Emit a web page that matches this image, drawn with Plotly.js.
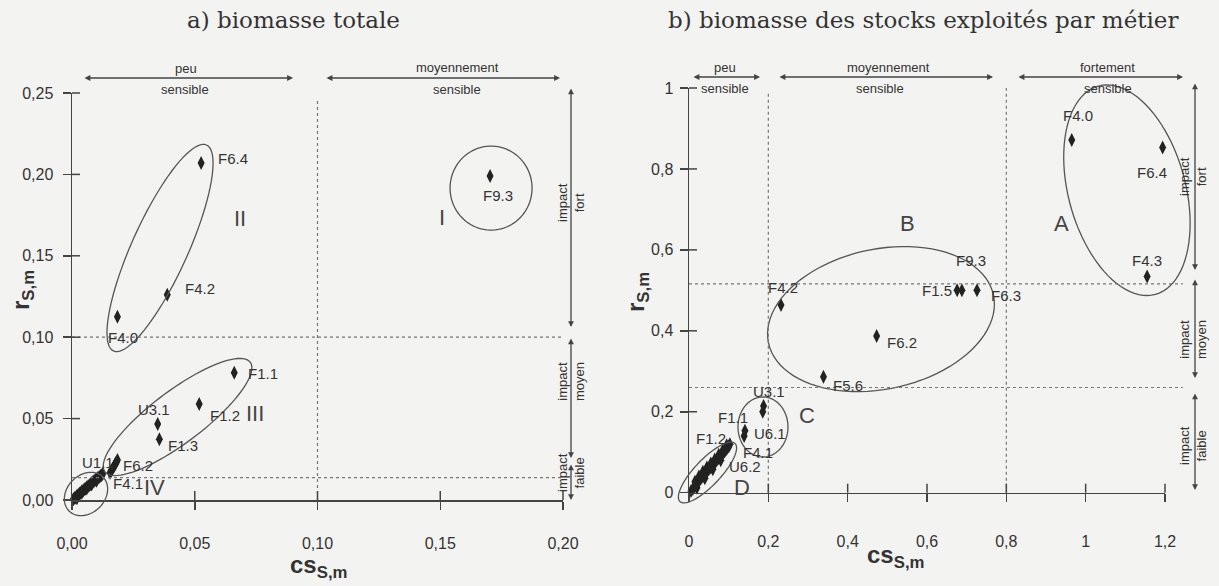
<!DOCTYPE html>
<html><head><meta charset="utf-8">
<script src="https://cdn.plot.ly/plotly-3.0.1.min.js"></script>
<style>html,body{margin:0;padding:0;background:#f3f3f1}</style>
</head><body><div id="chart" style="width:1219px;height:586px"></div>
<script>
// ---------- Panel a: biomasse totale ----------
const aNames = ['F6.4','F4.2','F4.0','F9.3','F1.1','F1.2','U3.1','F1.3'];
const aX = [0.0526,0.0388,0.0185,0.1703,0.0661,0.0518,0.0349,0.0356];
const aY = [0.2070,0.1260,0.1126,0.1990,0.0782,0.0590,0.0467,0.0373];
// dense cluster (IV, F4.1, U1.1, F6.2)
const aClusterX = [0.0005,0.0010,0.0015,0.0020,0.0025,0.0030,0.0035,0.0040,0.0045,0.0050,0.0055,0.0060,0.0065,0.0070,0.0075,0.0080,0.0085,0.0090,0.0095,0.0100,0.0105,0.0110,0.0115,0.0120,0.0125,0.0020,0.0040,0.0060,0.0080,0.0100,0.0155,0.0160,0.0165,0.0170,0.0175,0.0180,0.0185];
const aClusterY = [0.0004,0.0012,0.0016,0.0026,0.0030,0.0040,0.0043,0.0053,0.0057,0.0066,0.0069,0.0079,0.0083,0.0090,0.0097,0.0104,0.0110,0.0116,0.0124,0.0128,0.0135,0.0140,0.0147,0.0152,0.0160,0.0010,0.0045,0.0070,0.0095,0.0118,0.0168,0.0180,0.0192,0.0205,0.0218,0.0230,0.0245];
const aThreshX = [0.10];
const aThreshY = [0.10, 0.0137];
const aXTicks = [0,0.05,0.10,0.15,0.20];
const aXTickText = ['0,00','0,05','0,10','0,15','0,20'];
const aYTicks = [0,0.05,0.10,0.15,0.20,0.25];
const aYTickText = ['0,00','0,05','0,10','0,15','0,20','0,25'];

// ---------- Panel b: biomasse des stocks exploités par métier ----------
const bNames = ['F4.0','F6.4','F4.3','F1.5','F9.3','F6.3','F4.2','F6.2','F5.6','U3.1','U3.1b','F1.1','U6.1'];
const bX = [0.965,1.194,1.155,0.676,0.688,0.726,0.232,0.473,0.339,0.186,0.188,0.139,0.141];
const bY = [0.8715,0.853,0.534,0.500,0.500,0.500,0.4637,0.387,0.2866,0.200,0.214,0.140,0.153];
const bClusterX = [0.005,0.010,0.015,0.020,0.025,0.030,0.035,0.040,0.045,0.050,0.055,0.060,0.065,0.070,0.075,0.080,0.085,0.090,0.095,0.100,0.103,0.015,0.025,0.035,0.045,0.055,0.065,0.075,0.085,0.095,0.020,0.040,0.060,0.080];
const bClusterY = [0.004,0.010,0.016,0.024,0.028,0.035,0.040,0.047,0.051,0.058,0.062,0.069,0.073,0.080,0.085,0.091,0.096,0.102,0.108,0.114,0.120,0.027,0.040,0.052,0.062,0.072,0.082,0.094,0.104,0.117,0.012,0.036,0.058,0.080];
const bThreshX = [0.2, 0.8];
const bThreshY = [0.516, 0.26];
const bXTicks = [0,0.2,0.4,0.6,0.8,1,1.2];
const bXTickText = ['0','0,2','0,4','0,6','0,8','1','1,2'];
const bYTicks = [0,0.2,0.4,0.6,0.8,1];
const bYTickText = ['0','0,2','0,4','0,6','0,8','1'];

// ---------- geometry ----------
const W = 1219, H = 586;
const PA = {xd:[72/W,563/W], xr:[0,0.2], yd:[1-500/H,1-93/H], yr:[0,0.25]};
const PB = {xd:[689/W,1165/W], xr:[0,1.2], yd:[1-492.7/H,1-88/H], yr:[0,1]};
function pfx(P,x){return P.xd[0]+(x-P.xr[0])/(P.xr[1]-P.xr[0])*(P.xd[1]-P.xd[0]);}
function pfy(P,y){return P.yd[0]+(y-P.yr[0])/(P.yr[1]-P.yr[0])*(P.yd[1]-P.yd[0]);}

// group ellipses: centre in data units, semi-axes in px, angle in degrees
const aEllipses = [
  {cx:0.03585, cy:0.1548, a:113, b:28, ang:65.7},
  {cx:0.1707, cy:0.1916, a:41, b:42, ang:0},
  {cx:0.0430, cy:0.0510, a:91, b:26, ang:37},
  {cx:0.0057, cy:0.0037, a:24, b:19, ang:45}
];
const bEllipses = [
  {cx:1.104, cy:0.7475, a:108, b:58.5, ang:105.3},
  {cx:0.484, cy:0.429, a:115, b:70, ang:12},
  {cx:0.1865, cy:0.1624, a:25, b:30, ang:0},
  {cx:0.0466, cy:0.0499, a:40, b:13, ang:46.5}
];
function ellipseShape(P,e){
  const cx = pfx(P,e.cx)*W, cy = (1-pfy(P,e.cy))*H, th = e.ang*Math.PI/180;
  let d = '';
  for(let i=0;i<=90;i++){
    const t = 2*Math.PI*i/90, ex = e.a*Math.cos(t), ey = e.b*Math.sin(t);
    const X = cx + ex*Math.cos(th) - ey*Math.sin(th);
    const Y = cy - (ex*Math.sin(th) + ey*Math.cos(th));
    d += (i?'L':'M') + (X/W).toFixed(5) + ',' + (1-Y/H).toFixed(5);
  }
  return {type:'path', xref:'paper', yref:'paper', path:d+'Z', line:{color:'#555', width:1.3}};
}
function seg(P,x0,y0,x1,y1,style){
  return Object.assign({type:'line', xref:'paper', yref:'paper', x0:pfx(P,x0), y0:pfy(P,y0), x1:pfx(P,x1), y1:pfy(P,y1)}, style);
}
const dotStyle = {line:{color:'#777', width:1.2, dash:'dot'}};
const tickStyle = {line:{color:'#444', width:1.5}};

const shapes = [];
aEllipses.forEach(e=>shapes.push(ellipseShape(PA,e)));
bEllipses.forEach(e=>shapes.push(ellipseShape(PB,e)));
shapes.push(seg(PA,aThreshX[0],0,aThreshX[0],0.247,dotStyle));
aThreshY.forEach(v=>shapes.push(seg(PA,0,v,0.2,v,dotStyle)));
shapes.push(seg(PB,bThreshX[0],0,bThreshX[0],0.99,dotStyle));
shapes.push(seg(PB,bThreshX[1],0,bThreshX[1],1.0,dotStyle));
bThreshY.forEach(v=>shapes.push(seg(PB,0,v,1.245,v,dotStyle)));
// inner halves of crossing ticks
function innerTicks(P,xt,yt,xtl,ytl){
  xt.forEach(v=>{ if(v>0){const x=pfx(P,v), y=pfy(P,0); shapes.push({type:'line',xref:'paper',yref:'paper',x0:x,x1:x,y0:y,y1:y+xtl/H,line:tickStyle.line});}});
  yt.forEach(v=>{ if(v>0){const x=pfx(P,0), y=pfy(P,v); shapes.push({type:'line',xref:'paper',yref:'paper',x0:x,x1:x+ytl/W,y0:y,y1:y,line:tickStyle.line});}});
}
innerTicks(PA,aXTicks,aYTicks,9,8);
innerTicks(PB,bXTicks,bYTicks,9,8);

// ---------- annotations ----------
const ann = [];
const lblFont = {family:'Liberation Sans, Arial, sans-serif', size:15, color:'#333'};
const grpFont = {family:'Liberation Sans, Arial, sans-serif', size:22, color:'#444'};
function lab(xref,yref,x,y,t,f){ann.push({xref:xref,yref:yref,x:x,y:y,text:t,showarrow:false,font:f||lblFont,xanchor:'center',yanchor:'middle'});}
// panel a labels
[['F6.4',0.0656,0.2095],['F4.2',0.0521,0.1302],['F4.0',0.0208,0.1001],['F9.3',0.1735,0.1873],['F1.1',0.0778,0.0780],['F1.2',0.0623,0.0522],['U3.1',0.0334,0.0553],['F1.3',0.0452,0.0332],['U1.1',0.0106,0.0233],['F6.2',0.0269,0.0215],['F4.1',0.0228,0.0104]].forEach(l=>lab('x','y',l[1],l[2],l[0]));
[['II',0.0684,0.1732],['I',0.1507,0.1738],['III',0.0745,0.0534],['IV',0.0338,0.0074]].forEach(l=>lab('x','y',l[1],l[2],l[0],grpFont));
// panel b labels
[['F4.0',0.981,0.933],['F6.4',1.167,0.792],['F4.3',1.155,0.575],['F9.3',0.711,0.575],['F1.5',0.625,0.500],['F6.3',0.799,0.488],['F4.2',0.237,0.506],['F6.2',0.537,0.370],['F5.6',0.401,0.266],['U3.1',0.202,0.249],['F1.1',0.111,0.185],['U6.1',0.204,0.147],['F1.2',0.055,0.133],['F4.1',0.174,0.099],['U6.2',0.141,0.065]].forEach(l=>lab('x2','y2',l[1],l[2],l[0]));
[['B',0.550,0.666],['A',0.940,0.666],['C',0.297,0.192],['D',0.134,0.012]].forEach(l=>lab('x2','y2',l[1],l[2],l[0],grpFont));

// decorative arrows (px) : [x0,y0,x1,y1]
const arrows = [[83,78,293,78],[325,78,560,78],[692,77,760,77],[778,77,993,77],[1017,77,1183,77],
  [571,87,571,327],[571,337,571,458],[571,463,571,500],[1195,82,1195,270],[1195,278,1195,378],[1195,392,1195,490]];
arrows.forEach(a=>ann.push({xref:'paper',yref:'paper',x:a[2]/W,y:1-a[3]/H,ax:a[0]-a[2],ay:a[1]-a[3],axref:'pixel',ayref:'pixel',
  text:'',showarrow:true,arrowside:'end+start',arrowhead:2,startarrowhead:2,arrowsize:0.9,startarrowsize:0.9,arrowwidth:1.3,arrowcolor:'#444',standoff:0,startstandoff:0}));
const smallFont = {family:'Liberation Sans Narrow, Liberation Sans, Arial, sans-serif', size:13, color:'#333'};
function ptxt(x,y,t,angle,f){ann.push({xref:'paper',yref:'paper',x:x/W,y:1-y/H,text:t,showarrow:false,textangle:angle||0,font:f||smallFont,xanchor:'center',yanchor:'middle'});}
ptxt(186,69,'peu'); ptxt(185,89,'sensible');
ptxt(457,68,'moyennement'); ptxt(457,89,'sensible');
ptxt(725,67,'peu'); ptxt(725,88,'sensible');
ptxt(888,67,'moyennement'); ptxt(880,88,'sensible');
ptxt(1107,67,'fortement'); ptxt(1108,88,'sensible');
ptxt(571,203,'impact<br>fort',-90); ptxt(571,382,'impact<br>moyen',-90); ptxt(571,473,'impact<br>faible',-90);
ptxt(1193,177,'impact<br>fort',-90); ptxt(1193,340,'impact<br>moyen',-90); ptxt(1193,446,'impact<br>faible',-90);
const titleFont = {family:'DejaVu Serif, serif', size:23, color:'#333'};
ptxt(293,20,'a) biomasse totale',0,titleFont);
ptxt(923,20,'b) biomasse des stocks exploités par métier',0,titleFont);
const axFont = {family:'Liberation Sans, Arial, sans-serif', size:24, color:'#333'};
ptxt(22,290,'<b>r<sub>S,m</sub></b>',-90,axFont);
ptxt(637,292,'<b>r<sub>S,m</sub></b>',-90,axFont);
ptxt(318,566,'<b>cs<sub>S,m</sub></b>',0,axFont);
ptxt(895,556,'<b>cs<sub>S,m</sub></b>',0,axFont);

// ---------- traces ----------
const mk = {symbol:'diamond-tall', size:10, color:'#222'};
const traces = [
  {x:aX, y:aY, text:aNames, type:'scatter', mode:'markers', marker:mk, xaxis:'x', yaxis:'y', cliponaxis:false, hoverinfo:'text'},
  {x:aClusterX, y:aClusterY, type:'scatter', mode:'markers', marker:mk, xaxis:'x', yaxis:'y', cliponaxis:false},
  {x:bX, y:bY, text:bNames, type:'scatter', mode:'markers', marker:mk, xaxis:'x2', yaxis:'y2', cliponaxis:false, hoverinfo:'text'},
  {x:bClusterX, y:bClusterY, type:'scatter', mode:'markers', marker:mk, xaxis:'x2', yaxis:'y2', cliponaxis:false}
];
const tickFont = {family:'Liberation Sans, Arial, sans-serif', size:16, color:'#333'};
function axis(dom,rng,tv,tt,anchor,stand){
  return {domain:dom, range:rng, tickvals:tv, ticktext:tt, anchor:anchor, showline:true, linecolor:'#444', linewidth:1.5,
    ticks:'outside', ticklen:8, tickwidth:1.5, tickcolor:'#444', tickfont:tickFont, ticklabelstandoff:stand,
    showgrid:false, zeroline:false, fixedrange:true};
}
const layout = {
  width:W, height:H, margin:{l:0,r:0,t:0,b:0}, showlegend:false,
  paper_bgcolor:'#f3f3f1', plot_bgcolor:'rgba(0,0,0,0)',
  xaxis: axis(PA.xd,PA.xr,aXTicks,aXTickText,'y',20),
  yaxis: axis(PA.yd,PA.yr,aYTicks,aYTickText,'x',6),
  xaxis2: axis(PB.xd,PB.xr,bXTicks,bXTickText,'y2',26),
  yaxis2: axis(PB.yd,PB.yr,bYTicks,bYTickText,'x2',3),
  shapes: shapes, annotations: ann
};
Plotly.newPlot('chart', traces, layout, {displayModeBar:false, staticPlot:true});
</script></body></html>
